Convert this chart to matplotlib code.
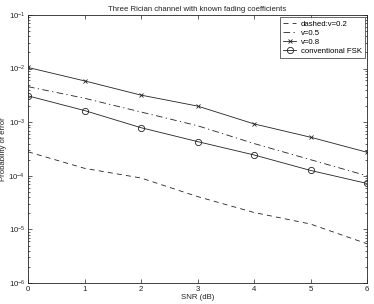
import matplotlib
matplotlib.use("Agg")
import matplotlib.pyplot as plt
from matplotlib.ticker import LogLocator, NullFormatter

plt.rcParams['font.family'] = ['Liberation Sans', 'DejaVu Sans']
plt.rcParams['mathtext.fontset'] = 'custom'
plt.rcParams['mathtext.rm'] = 'Liberation Sans'

snr = [0, 1, 2, 3, 4, 5, 6]
pe_v02 = [2.8e-4, 1.38e-4, 9.1e-5, 4.1e-5, 2.07e-5, 1.26e-5, 5.4e-6]
pe_v05 = [4.6e-3, 2.8e-3, 1.55e-3, 8.6e-4, 4.0e-4, 2.0e-4, 1.0e-4]
pe_v08 = [1.05e-2, 5.9e-3, 3.2e-3, 2.0e-3, 9.3e-4, 5.25e-4, 2.75e-4]
pe_fsk = [3.1e-3, 1.65e-3, 7.9e-4, 4.35e-4, 2.45e-4, 1.26e-4, 7.2e-5]
labels = ['dashed:v=0.2', 'v=0.5', 'v=0.8', 'conventional FSK']

fs = 5.6
fig = plt.figure(figsize=(3.74, 3.04), dpi=100)
ax = fig.add_axes([0.0749, 0.069, 0.9064, 0.8817])
c = '#222222'
lw = 0.6
ax.semilogy(snr, pe_v02, linestyle=(0, (6, 5)), color=c, lw=lw, label=labels[0])
ax.semilogy(snr, pe_v05, linestyle=(0, (8, 4, 1.5, 4)), color=c, lw=lw, label=labels[1])
ax.semilogy(snr, pe_v08, '-x', color=c, lw=lw, ms=3, mew=0.6, label=labels[2])
ax.semilogy(snr, pe_fsk, '-o', color=c, lw=lw, ms=4.5, mew=0.6, mfc='none', label=labels[3])

ax.set_xlim(0, 6)
ax.set_ylim(1e-6, 1e-1)
ax.set_xticks(snr)
ax.yaxis.set_major_locator(LogLocator(base=10, numticks=10))
ax.yaxis.set_minor_locator(LogLocator(base=10, subs=range(2, 10), numticks=10))
ax.yaxis.set_minor_formatter(NullFormatter())
ax.tick_params(which='both', direction='in', top=True, right=True, labelsize=fs, width=0.5, colors='#222222')
ax.tick_params(which='major', length=3, pad=2)
ax.tick_params(which='minor', length=1.7)
for s in ax.spines.values():
    s.set_linewidth(0.6)
    s.set_color('#222222')

ax.set_title('Three Rician channel with known fading coefficients', fontsize=fs, pad=3, color='#222222')
ax.set_xlabel('SNR (dB)', fontsize=fs, labelpad=1, color='#222222')
ax.set_ylabel('Probability of error', fontsize=fs, color='#222222')
ax.yaxis.set_label_coords(-0.062, 0.5)

leg = ax.legend(loc='upper right', fontsize=fs, frameon=True, fancybox=False,
                edgecolor='#222222', handlelength=1.6, handletextpad=0.6,
                borderpad=0.4, labelspacing=0.2, borderaxespad=0.3)
leg.get_frame().set_linewidth(0.6)

fig.savefig('out.png', dpi=100)
